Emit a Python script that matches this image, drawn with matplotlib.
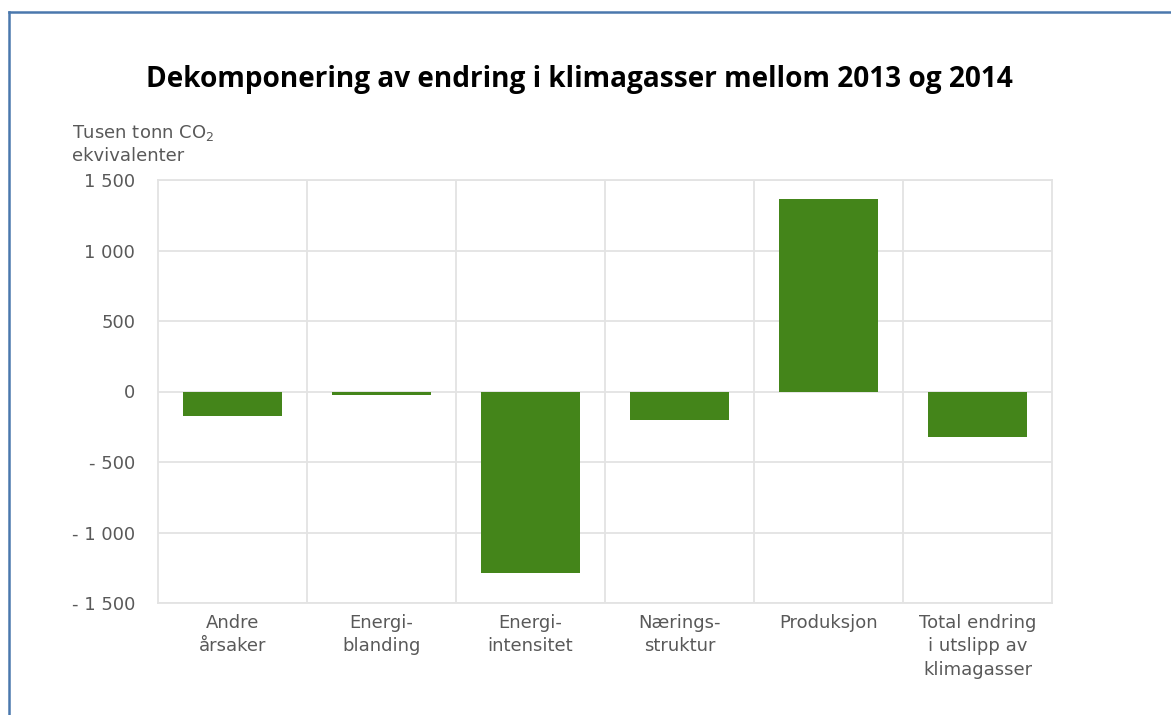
import matplotlib
matplotlib.use("Agg")
import matplotlib.pyplot as plt
from matplotlib.lines import Line2D
from matplotlib.ticker import FixedLocator, FuncFormatter

categories = ["Andre\nårsaker", "Energi-\nblanding", "Energi-\nintensitet",
              "Nærings-\nstruktur", "Produksjon", "Total endring\ni utslipp av\nklimagasser"]
values = [-175, -25, -1290, -200, 1365, -320]
yticks = [-1500, -1000, -500, 0, 500, 1000, 1500]

W, H = 1171, 715
fig = plt.figure(figsize=(W / 100, H / 100), dpi=100)
fig.patch.set_facecolor("white")

left, right, top, bottom = 158, 1052, 180, 603
ax = fig.add_axes([left / W, 1 - bottom / H, (right - left) / W, (bottom - top) / H])

x = list(range(len(categories)))
ax.bar(x, values, width=0.67, color="#44851a", zorder=3)
ax.set_xlim(-0.5, len(categories) - 0.5)
ax.set_ylim(-1500, 1500)

grid_c = "#e3e3e3"
ax.yaxis.set_major_locator(FixedLocator(yticks))
ax.grid(axis="y", color=grid_c, linewidth=1.3, zorder=0)
for b in [i + 0.5 for i in range(len(categories) - 1)]:
    ax.axvline(b, color=grid_c, linewidth=1.3, zorder=0)
for s in ax.spines.values():
    s.set_color(grid_c)
    s.set_linewidth(1.3)

def fmt(v, pos):
    v = int(round(v))
    s = f"{abs(v):,}".replace(",", " ")
    return ("- " + s) if v < 0 else s

small_font = "DejaVu Sans"
txt_c = "#595959"
fs = 13
ax.yaxis.set_major_formatter(FuncFormatter(fmt))
ax.set_xticks(x)
ax.set_xticklabels(categories, fontsize=fs, color=txt_c, family=small_font,
                   linespacing=1.38, va="top")
ax.tick_params(axis="both", length=0)
ax.tick_params(axis="x", pad=8)
ax.tick_params(axis="y", pad=16.5)
for lab in ax.get_yticklabels():
    lab.set_fontsize(fs)
    lab.set_color(txt_c)
    lab.set_family(small_font)

fig.text(579 / W, 1 - 80 / H, "Dekomponering av endring i klimagasser mellom 2013 og 2014",
         ha="center", va="center", fontsize=20.2, fontweight="bold", family="Open Sans",
         color="black")
fig.text(72 / W, 1 - 133 / H, "Tusen tonn CO$_2$", ha="left", va="center",
         fontsize=fs, color=txt_c, family=small_font)
fig.text(72 / W, 1 - 156 / H, "ekvivalenter", ha="left", va="center",
         fontsize=fs, color=txt_c, family=small_font)

border_c = "#4a78ad"
fig.add_artist(Line2D([9 / W, 9 / W], [0, 1 - 12 / H], transform=fig.transFigure,
                      color=border_c, linewidth=1.8))
fig.add_artist(Line2D([9 / W, 1], [1 - 12 / H, 1 - 12 / H], transform=fig.transFigure,
                      color=border_c, linewidth=1.8))

fig.savefig("out.png", dpi=100, facecolor="white")
